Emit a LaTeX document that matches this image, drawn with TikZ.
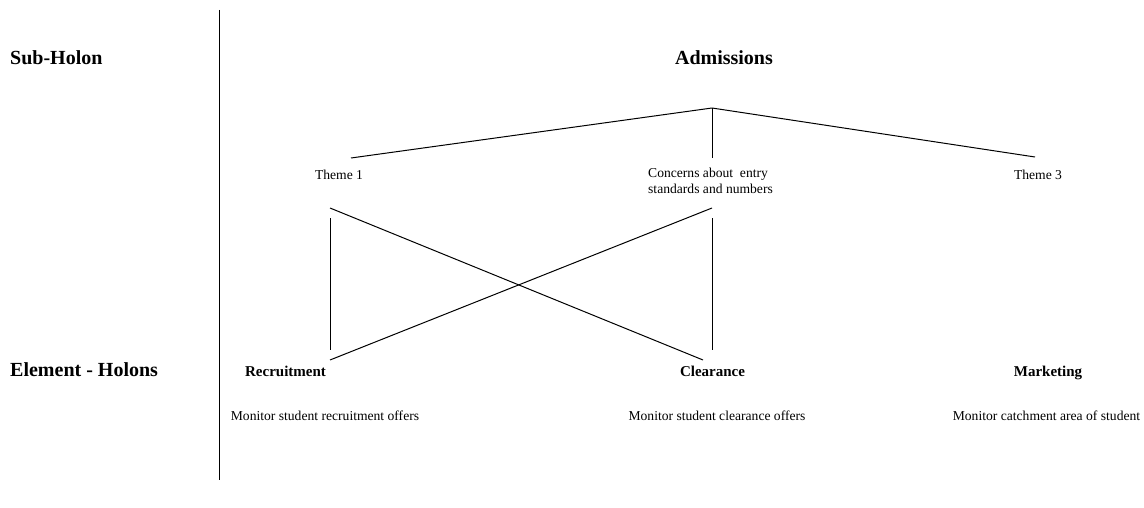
\documentclass[tikz,border=0pt]{standalone}
\usepackage{fontspec}
\setmainfont{Liberation Serif}
\begin{document}
\begin{tikzpicture}[x=1pt,y=-1pt,
  lbl/.style={font=\fontsize{20}{24}\selectfont\bfseries, inner sep=0pt},
  elem/.style={font=\fontsize{15}{18}\selectfont\bfseries, inner sep=0pt, anchor=base},
  small/.style={font=\fontsize{13.6}{15.5}\selectfont, inner sep=0pt},
  ln/.style={line width=1pt}]
\useasboundingbox (0,0) rectangle (1144,508);
\draw[ln] (219,10) -- (219,480);
\node[lbl, anchor=west] (sub) at (10,58) {Sub-Holon};
\node[lbl, anchor=west] (elh) at (10,370) {Element - Holons};
\node[lbl] (adm) at (724,58) {Admissions};
\coordinate (top) at (712,108);
\node[small] (t1) at (339,175) {Theme 1};
\node[small, align=left, anchor=north west] (conc) at (648,168) {Concerns about\ \ entry\\standards and numbers};
\node[small] (t3) at (1038,175) {Theme 3};
\coordinate (t1a) at (351,158);
\coordinate (conca) at (712,158);
\coordinate (t3a) at (1035,157);
\draw[ln] (top) -- (t1a);
\draw[ln] (top) -- (conca);
\draw[ln] (top) -- (t3a);
\node[elem] (rec) at (285.5,376) {Recruitment};
\node[elem] (clr) at (712.5,376) {Clearance};
\node[elem] (mkt) at (1048,376) {Marketing};
\node[small] (recd) at (325,416) {Monitor student recruitment offers};
\node[small] (clrd) at (717,416) {Monitor student clearance offers};
\node[small] (mktd) at (1046.5,416) {Monitor catchment area of student};
\coordinate (t1b) at (330,208);
\coordinate (t1v) at (330,218);
\coordinate (concb) at (712,208);
\coordinate (concv) at (712,218);
\coordinate (reca) at (330,360);
\coordinate (recv) at (330,350);
\coordinate (clra) at (703,360);
\coordinate (clrv) at (712,350);
\draw[ln] (t1b) -- (clra);
\draw[ln] (t1v) -- (recv);
\draw[ln] (concb) -- (reca);
\draw[ln] (concv) -- (clrv);
\end{tikzpicture}
\end{document}
